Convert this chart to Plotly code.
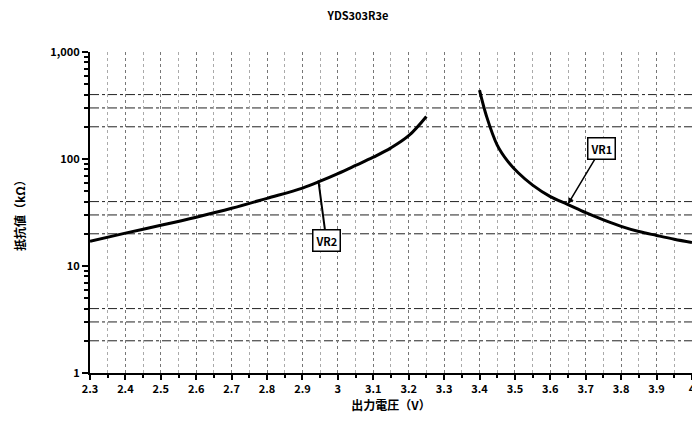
import plotly.graph_objects as go

# ---- data ----
vr2_x = [2.30, 2.40, 2.50, 2.60, 2.70, 2.80, 2.90, 2.95, 3.00, 3.05, 3.10, 3.15, 3.20, 3.25]
vr2_y = [17.0, 20.3, 24.0, 28.6, 34.6, 42.9, 53.5, 62.0, 73.0, 87.0, 104, 127, 165, 250]
vr1_x = [3.40, 3.42, 3.45, 3.48, 3.51, 3.55, 3.60, 3.65, 3.70, 3.75, 3.80, 3.85, 3.90, 3.95, 4.00]
vr1_y = [440, 250, 135, 95, 74, 57, 44.5, 37.5, 31.5, 27.0, 23.5, 21.0, 19.3, 17.8, 16.6]

x_ticks = [2.3, 2.4, 2.5, 2.6, 2.7, 2.8, 2.9, 3.0, 3.1, 3.2, 3.3, 3.4, 3.5, 3.6, 3.7, 3.8, 3.9, 4.0]
x_tick_text = ["2.3", "2.4", "2.5", "2.6", "2.7", "2.8", "2.9", "3", "3.1", "3.2", "3.3",
               "3.4", "3.5", "3.6", "3.7", "3.8", "3.9", "4"]
y_ticks = [1, 10, 100, 1000]
y_tick_text = ["1", "10", "100", "1,000"]
y_minor = [m * d for d in (1, 10, 100) for m in range(2, 10)]
y_grid = [2, 3, 4, 20, 30, 40, 200, 300, 400]

title = "YDS303R3e"
x_title = "出力電圧（V）"
y_title = "抵抗値（kΩ）"

FONT = "Noto Sans CJK JP, Noto Sans, sans-serif"

fig = go.Figure()
fig.add_trace(go.Scatter(x=vr2_x, y=vr2_y, mode="lines", line=dict(color="black", width=3, shape="spline"),
                         name="VR2", showlegend=False))
fig.add_trace(go.Scatter(x=vr1_x, y=vr1_y, mode="lines", line=dict(color="black", width=3, shape="spline"),
                         name="VR1", showlegend=False))

for v in y_grid:
    fig.add_hline(y=v, line=dict(color="#222", width=1, dash="dashdot"), layer="below")

fig.add_annotation(x=2.945, y=1.797, xref="x", yref="y", text="<b>VR2</b>", showarrow=True,
                   arrowhead=0, arrowwidth=2, arrowcolor="black", ax=8, ay=60,
                   bordercolor="black", borderwidth=1.5, borderpad=2, bgcolor="white",
                   font=dict(family=FONT, size=11, color="black"))
fig.add_annotation(x=3.65, y=1.58, xref="x", yref="y", text="<b>VR1</b>", showarrow=True,
                   arrowhead=2, arrowsize=0.8, arrowwidth=1.5, arrowcolor="black", ax=33, ay=-55,
                   bordercolor="black", borderwidth=1.5, borderpad=2, bgcolor="white",
                   font=dict(family=FONT, size=11, color="black"))

fig.update_layout(
    width=700, height=430,
    margin=dict(l=75, r=12, t=44, b=65),
    paper_bgcolor="white", plot_bgcolor="white",
    font=dict(family=FONT, size=11, color="black"),
    title=dict(text="<b>" + title + "</b>", x=0.5, xref="container", y=0.982, yref="container",
               xanchor="center", yanchor="middle", font=dict(size=11)),
    xaxis=dict(range=[2.3, 4.0001], tickmode="array", tickvals=x_ticks,
               ticktext=["<b>" + t + "</b>" for t in x_tick_text],
               ticklabeloverflow="allow",
               ticks="outside", ticklen=5, tickwidth=2, tickcolor="black",
               showline=True, linecolor="black", linewidth=2,
               showgrid=True, gridcolor="#777", griddash="dot", gridwidth=1,
               minor=dict(dtick=0.05, tick0=2.3, ticks="outside", ticklen=3, tickcolor="black",
                          showgrid=True, gridcolor="#aaa", griddash="dot"),
               title=dict(text="<b>" + x_title + "</b>", standoff=2, font=dict(size=12)),
               zeroline=False),
    yaxis=dict(type="log", range=[0, 3], tickmode="array", tickvals=y_ticks,
               ticktext=["<b>" + t + "</b>" for t in y_tick_text],
               ticks="outside", ticklen=6, tickwidth=2, tickcolor="black",
               showline=True, linecolor="black", linewidth=2, showgrid=False,
               minor=dict(tickmode="array", tickvals=y_minor, ticks="outside", ticklen=4,
                          tickwidth=2, tickcolor="black", showgrid=False),
               title=dict(text="<b>" + y_title + "</b>", standoff=22, font=dict(size=12)),
               zeroline=False),
)

fig.write_html("out.html")
